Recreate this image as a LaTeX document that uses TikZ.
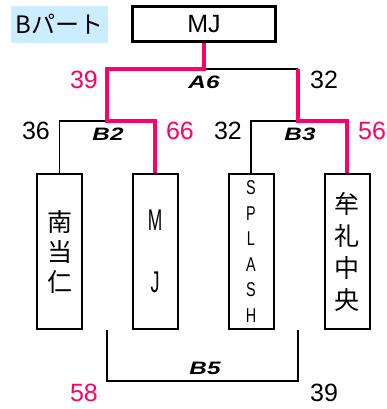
\documentclass[tikz,border=0pt]{standalone}
\usepackage{fontspec}
\usepackage{graphicx}
\setmainfont{Liberation Sans}
\newfontfamily\cjk{Noto Sans CJK JP}
\definecolor{winred}{HTML}{FF0066}
\definecolor{tagblue}{HTML}{CCECFF}
\newcommand{\xstretch}[2]{\scalebox{#1}[1]{#2}}

\tikzset{
    bracket/.style={line width=1.6pt},
    win/.style={line width=3.4pt, draw=winred},
    teambox/.style={draw, line width=2pt, minimum width=45pt, minimum height=155pt,
        inner sep=0pt, align=center},
    score/.style={font=\fontsize{25}{25}\selectfont},
    match/.style={font=\fontsize{18}{18}\selectfont\bfseries\itshape}
}

\begin{document}
\begin{tikzpicture}[x=1pt,y=-1pt]
        \useasboundingbox (0,0) rectangle (387,409);

        \node[fill=tagblue, minimum width=97pt, minimum height=37pt, inner sep=0pt,
            font=\cjk\fontsize{24}{24}\selectfont] (tag) at (59.5,24.5) {Bパート};
        \node[draw, line width=3.4pt, minimum width=143pt, minimum height=35pt,
            font=\fontsize{25}{25}\selectfont] (final) at (204,24) {MJ};

        \node[teambox, font=\cjk\fontsize{25}{30}\selectfont] (t1) at (59.5,251.5) {南\\当\\仁};
        \node[teambox, font=\fontsize{30}{31}\selectfont] (t2) at (155,251.5)
            {\xstretch{0.58}{M}\\ \\\xstretch{0.6}{J}};
        \node[teambox, font=\fontsize{20}{25.5}\selectfont] (t3) at (251,251.5)
            {\xstretch{0.72}{S}\\\xstretch{0.72}{P}\\\xstretch{0.72}{L}\\\xstretch{0.72}{A}\\\xstretch{0.72}{S}\\\xstretch{0.72}{H}};
        \node[teambox, font=\cjk\fontsize{25}{32}\selectfont] (t4) at (347,251.5) {牟\\礼\\中\\央};

        \coordinate (a6l) at (107,69);
        \coordinate (a6r) at (298,69);
        \coordinate (b2m) at (107,121);
        \coordinate (b3m) at (298,121);
        \coordinate (b5l) at (107,381);
        \coordinate (b5r) at (298,381);

        \draw[bracket] (final.south |- a6l) -- (a6r);
        \draw[bracket] (t1.north) |- (b2m);
        \draw[bracket] (t3.north) |- (b3m);
        \draw[bracket] (b5l |- t1.south) -- (b5l) -- (b5r) -- (b5r |- t1.south);
        \draw[win] (final.south) |- (a6l) -- (b2m) -| (t2.north);
        \draw[win] (t4.north) |- (b3m) -- (a6r);

        \node[match] (a6) at (204,82) {\xstretch{1.35}{A6}};
        \node[match] (b2) at (108,134) {\xstretch{1.35}{B2}};
        \node[match] (b3) at (300,134) {\xstretch{1.35}{B3}};
        \node[match] (b5) at (205,368) {\xstretch{1.35}{B5}};

        \foreach \x/\y/\n/\c/\s in {84/80/a6a/winred/39, 324/80/a6b/black/32,
            36/131/b2a/black/36, 180/131/b2b/winred/66, 228/131/b3a/black/32,
            372/131/b3b/winred/56, 84/393/b5a/winred/58, 324/393/b5b/black/39}
            \node[score, text=\c] (\n) at (\x,\y) {\s};
\end{tikzpicture}
\end{document}
